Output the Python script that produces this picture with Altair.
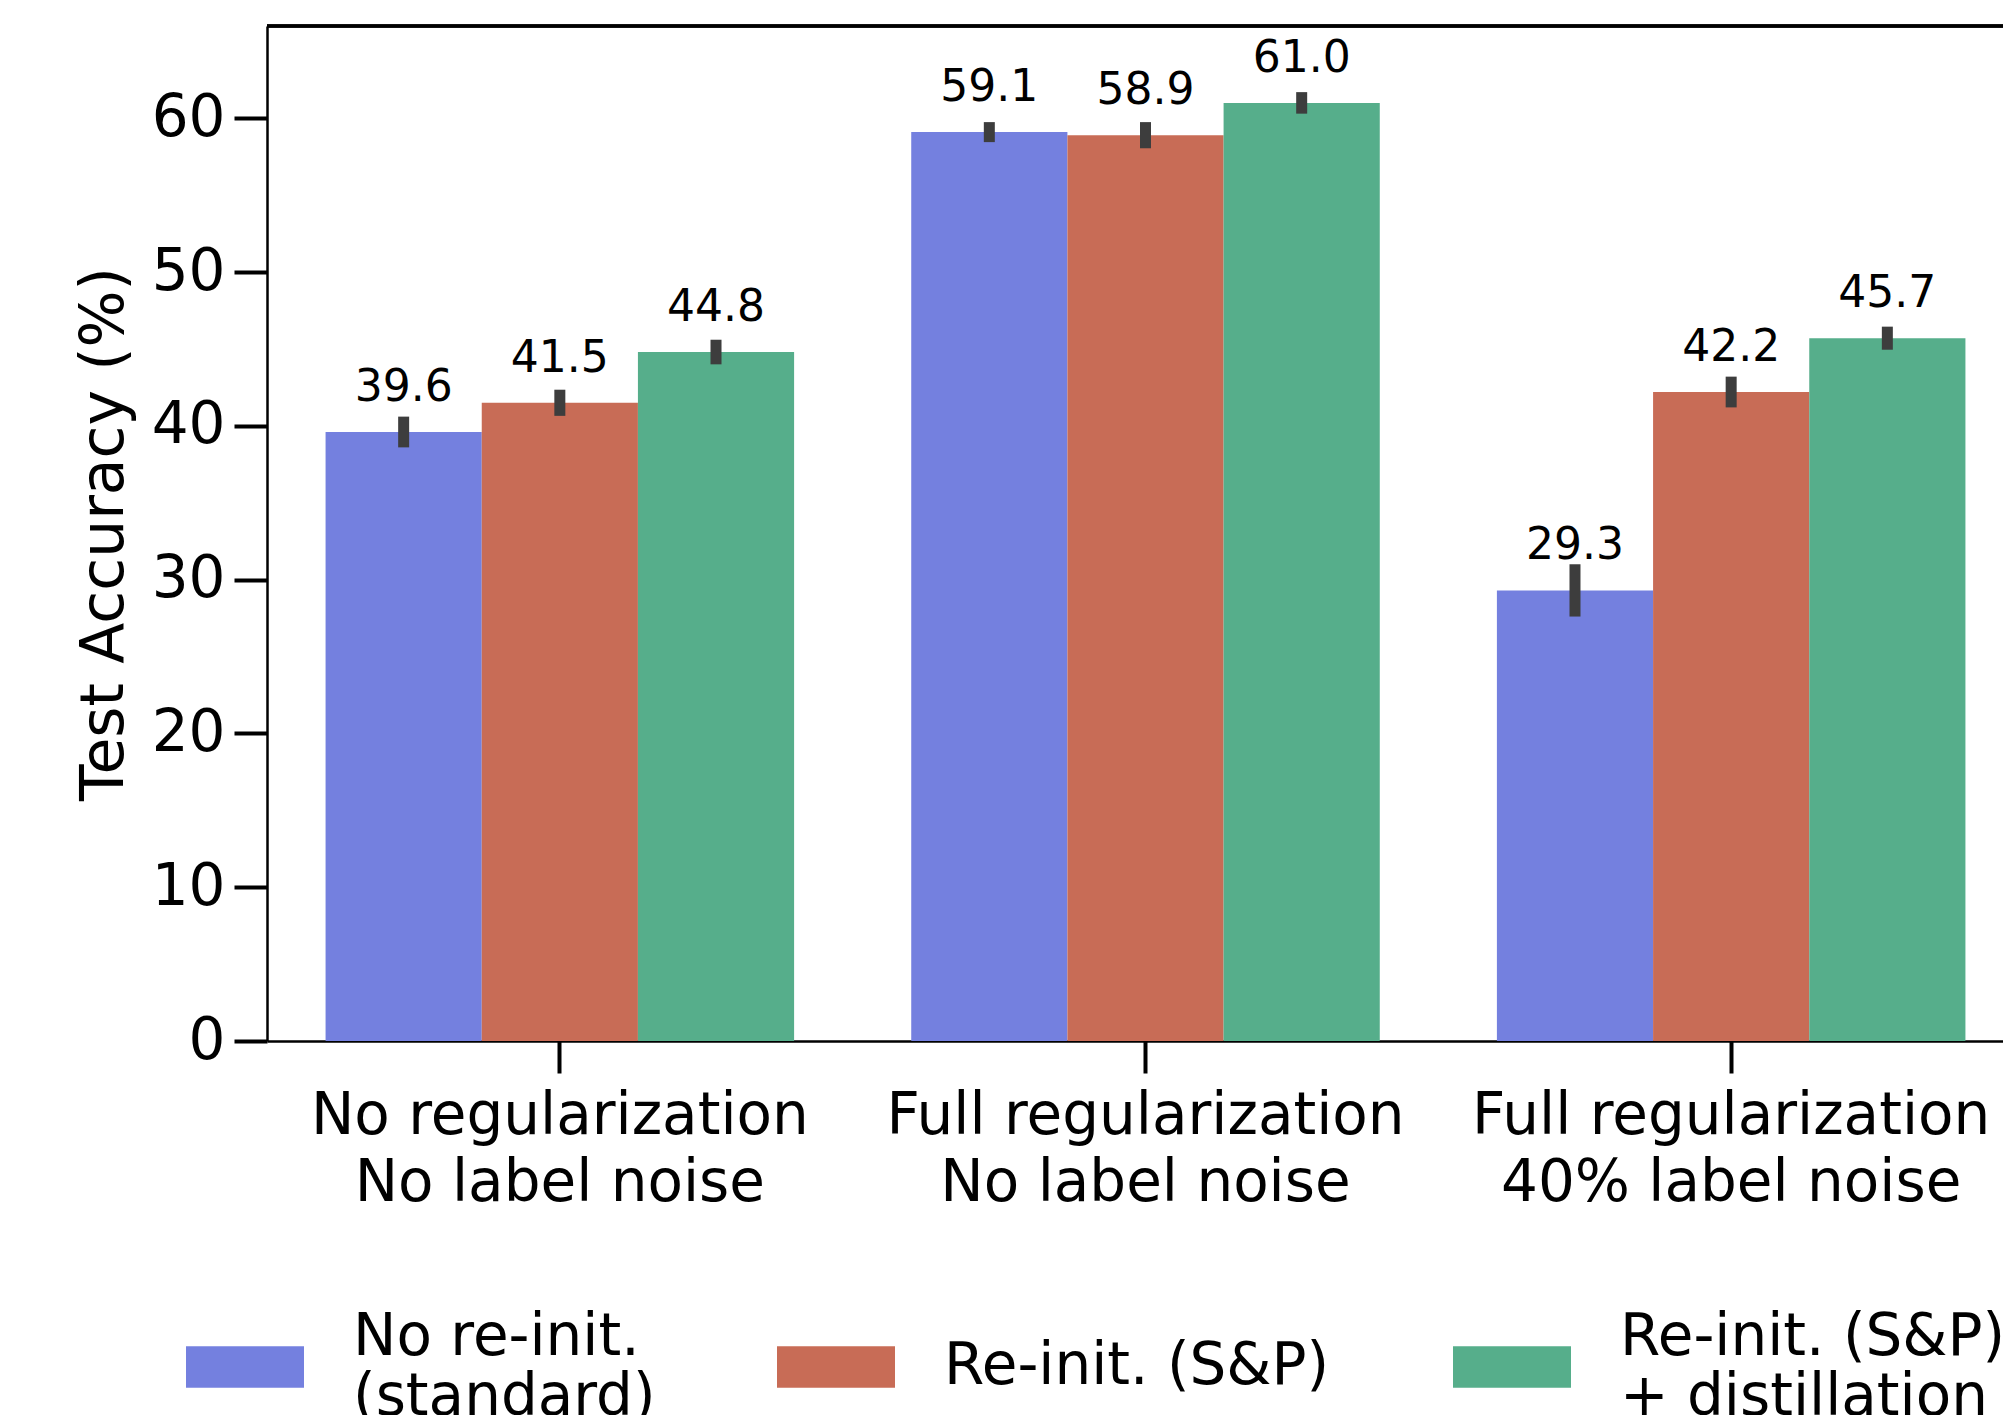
import altair as alt
import pandas as pd

groups = ["No regularization\nNo label noise",
          "Full regularization\nNo label noise",
          "Full regularization\n40% label noise"]
methods = ["No re-init.\n(standard)", "Re-init. (S&P)", "Re-init. (S&P)\n+ distillation"]
colors = ["#7480df", "#c86c56", "#56ae8b"]

acc_no_reinit = [39.6, 59.1, 29.3]
acc_reinit = [41.5, 58.9, 42.2]
acc_distill = [44.8, 61.0, 45.7]
err_no_reinit = [1.0, 0.65, 1.7]
err_reinit = [0.85, 0.85, 1.0]
err_distill = [0.8, 0.7, 0.75]
y_ticks = [0, 10, 20, 30, 40, 50, 60]

rows = []
for m, accs, errs in zip(methods,
                         [acc_no_reinit, acc_reinit, acc_distill],
                         [err_no_reinit, err_reinit, err_distill]):
    for g, a, e in zip(groups, accs, errs):
        rows.append({"group": g, "method": m, "acc": a, "lo": a - e, "hi": a + e})
df = pd.DataFrame(rows)

FONT = "DejaVu Sans"
W_RANGE = 1757
W = 1736
H = 1015

# legend entry placement (layout only)
legend_x = [-81, 510, 1186]
legend_y = 1282
legend_baseline = ["bottom", "middle", "bottom"]

x_axis = alt.Axis(title=None, labelAngle=0, labelExpr="split(datum.label, '\\n')",
                  labelFontSize=58, labelFont=FONT, labelColor="black",
                  labelLineHeight=67, labelPadding=14, labelLimit=0,
                  tickSize=32, tickWidth=4, tickColor="black",
                  domainColor="black", domainWidth=2.5, grid=False)
y_axis = alt.Axis(title="Test Accuracy (%)", values=y_ticks, grid=False,
                  labelFontSize=58, labelFont=FONT, labelColor="black", labelPadding=9,
                  tickSize=33, tickWidth=4, tickColor="black",
                  domainColor="black", domainWidth=2.5,
                  titleFontSize=60, titleFont=FONT, titleFontWeight="normal",
                  titleColor="black", titlePadding=16)
x_scale = alt.Scale(domain=groups, range=[0, W_RANGE], paddingInner=0.2, paddingOuter=0.1)
xo_scale = alt.Scale(domain=methods)
y_scale = alt.Scale(domain=[0, 66], nice=False, zero=True)

def x_enc():
    return alt.X("group:N", scale=x_scale, axis=x_axis)

def xo_enc():
    return alt.XOffset("method:N", scale=xo_scale)

layers = []
for m, c, lx, lb in zip(methods, colors, legend_x, legend_baseline):
    layers.append(
        alt.Chart(df).transform_filter(alt.FieldEqualPredicate(field="method", equal=m))
        .mark_bar(strokeWidth=0).encode(
            x=x_enc(),
            xOffset=xo_enc(),
            y=alt.Y("acc:Q", scale=y_scale, axis=y_axis),
            color=alt.Color("method:N", scale=alt.Scale(domain=[m], range=[c]),
                            legend=alt.Legend(title=None, orient="none", legendX=lx, legendY=legend_y,
                                              symbolType="M-1,-0.35H1V0.35H-1Z", symbolSize=13924,
                                              symbolStrokeWidth=0, labelFontSize=58, labelFont=FONT,
                                              labelColor="black", labelOffset=49, labelLimit=0,
                                              labelBaseline=lb,
                                              labelExpr="split(datum.label, '\\n')")),
        )
    )

errs = alt.Chart(df).mark_rule(color="#3d3d3d", strokeWidth=11).encode(
    x=x_enc(),
    xOffset=xo_enc(),
    y=alt.Y("lo:Q", scale=y_scale, axis=y_axis),
    y2="hi:Q",
)

labels = alt.Chart(df).mark_text(fontSize=44, font=FONT, color="black",
                                 baseline="alphabetic", dy=-31).encode(
    x=x_enc(),
    xOffset=xo_enc(),
    y=alt.Y("acc:Q", scale=y_scale, axis=y_axis),
    text=alt.Text("acc:Q", format=".1f"),
)

top_spine = alt.Chart(df).mark_rule(color="black", strokeWidth=2.5).encode(
    x=alt.value(0), x2=alt.value(W_RANGE), y=alt.value(0)
)

chart = alt.layer(*layers, errs, labels, top_spine).resolve_scale(
    color="independent"
).properties(
    width=W, height=H,
    padding={"left": 259, "top": 18, "right": 0, "bottom": 374},
    autosize=alt.AutoSizeParams(type="none"),
).configure(
    view=alt.ViewConfig(stroke=None),
)

chart.save("out.html", embed_options={"renderer": "svg", "actions": False})
